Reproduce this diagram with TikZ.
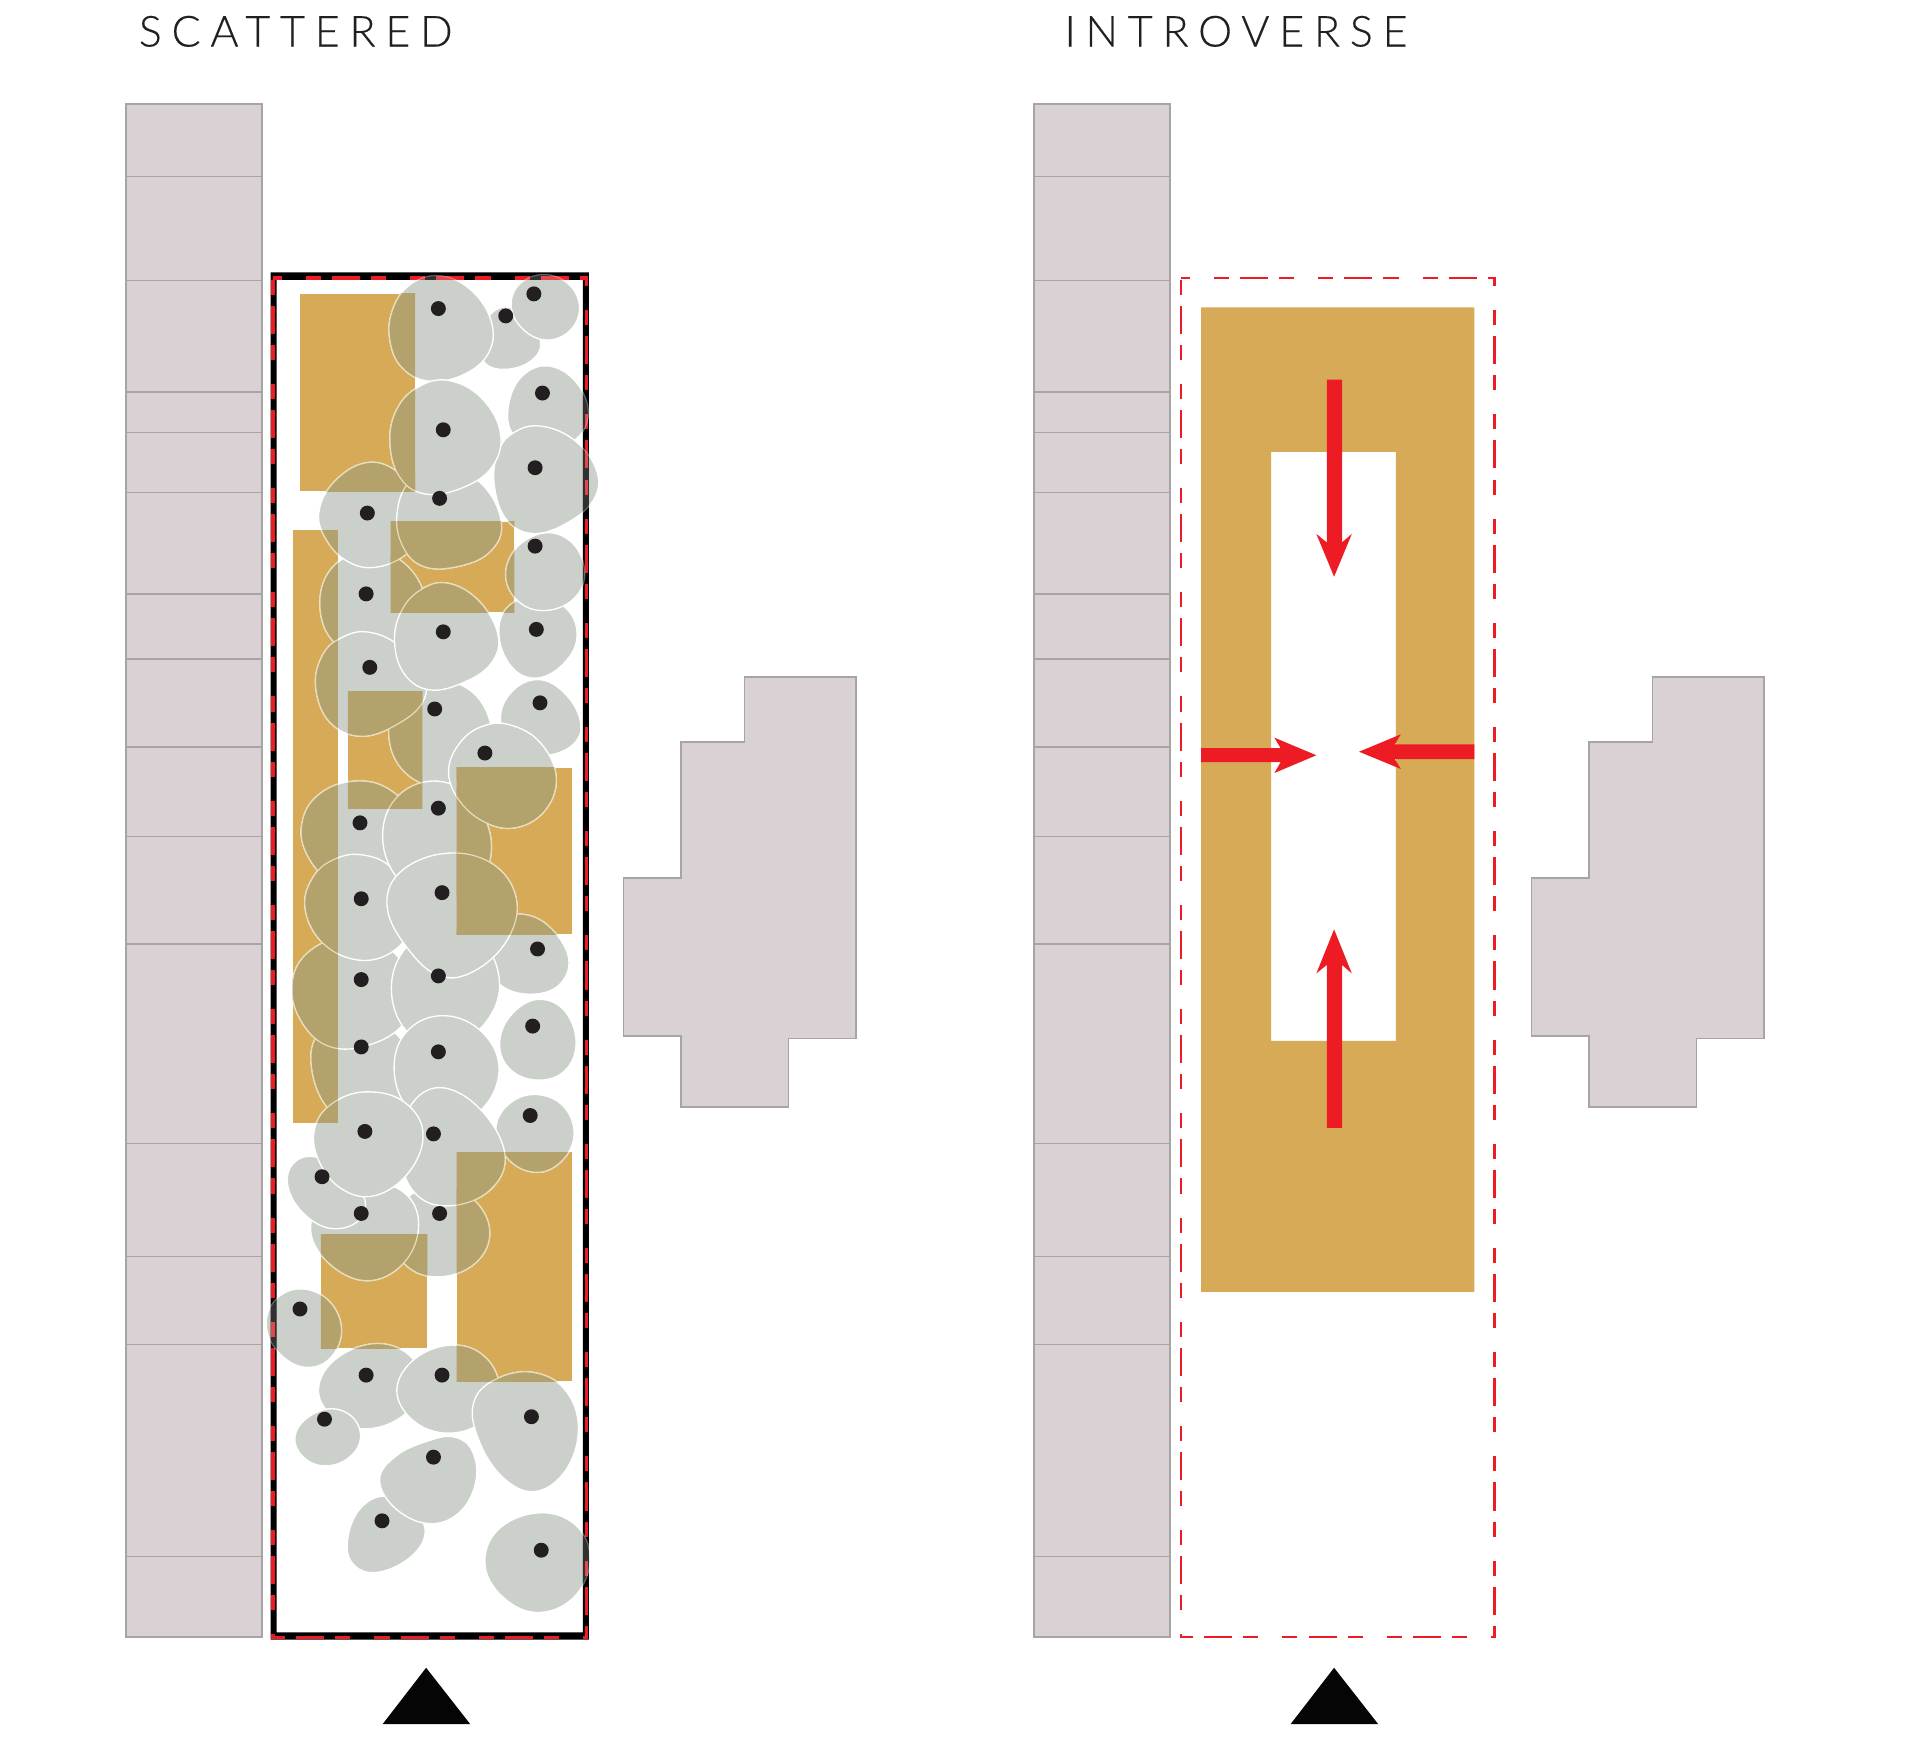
\documentclass[tikz,border=0pt]{standalone}
\usepackage{fontspec}
\newfontfamily\titlefont[LetterSpace=23,FakeBold=0.35]{Lato Light}
\definecolor{bldfill}{HTML}{D9D1D3}
\definecolor{bldline}{HTML}{A8A4A5}
\definecolor{ochre}{HTML}{D7AA58}
\definecolor{blobgray}{HTML}{CBD0CB}
\definecolor{bloboverlap}{HTML}{B4A26C}
\definecolor{cream}{HTML}{E6DCBC}
\definecolor{dotblack}{HTML}{231F20}
\definecolor{dashred}{HTML}{ED1C24}
\tikzset{
  bldstyle/.style={fill=bldfill,draw=bldline,line width=.6pt},
  bldrule/.style={draw=bldline,line width=.6pt},
  ochrefill/.style={fill=ochre,draw=none},
  arrowred/.style={fill=dashred,draw=none},
  plotdash/.style={draw=dashred,line width=#1,dash pattern=on 6.15pt off 4.5pt on 11.45pt off 4.5pt on 6.15pt off 9.8pt,dash phase=29.05pt},
  blobmain/.style={fill=blobgray,draw=white,line width=.55pt},
  blobover/.style={fill=bloboverlap,draw=cream,line width=.5pt},
  blobveil/.style={fill=blobgray,fill opacity=.24,draw=white,draw opacity=.3,line width=.5pt},
  seed/.style={circle,fill=dotblack,draw=none,minimum size=6.1pt,inner sep=0pt},
  marker/.style={fill=black!98,draw=none},
  plantitle/.style={anchor=base west,inner sep=0pt,text=dotblack,font=\titlefont\fontsize{17.5}{20}\selectfont}
}
\makeatletter
\newcount\bn \newcount\bi
\def\parsepts(#1,#2){\advance\bn 1 \expandafter\def\csname bx\the\bn\endcsname{#1}\expandafter\def\csname by\the\bn\endcsname{#2}%
  \pgfmathsetmacro\sumx{\sumx+#1/40}\pgfmathsetmacro\sumy{\sumy+#2/40}\@ifnextchar(\parsepts\parsedone}
\def\parsedone\relax{}
\def\cycidx#1{\ifnum#1<1 \the\numexpr#1+\bn\relax\else\ifnum#1>\bn \the\numexpr#1-\bn\relax\else#1\fi\fi}
\def\cycval#1#2{\csname b#1\expandafter\cycidx\expandafter{\the\numexpr\bi+#2\relax}\endcsname}
\def\filtered#1{%
  \edef\va{\cycval{#1}{0}}\edef\vb{\cycval{#1}{1}}\edef\vc{\cycval{#1}{-1}}\edef\vd{\cycval{#1}{2}}\edef\ve{\cycval{#1}{-2}}%
  \pgfmathsetmacro\vout{.625*\va+.25*(\vb+\vc)-.0625*(\vd+\ve)}}
\newcommand{\defblob}[2]{%
  \bn=0 \def\sumx{0}\def\sumy{0}\parsepts#2\relax
  \pgfmathsetmacro\cenx{\sumx*40/\the\bn}\pgfmathsetmacro\ceny{\sumy*40/\the\bn}%
  \def\accpts{}\bi=0
  \loop\advance\bi 1
    \filtered{x}\pgfmathsetmacro\nx{\cenx+1.03*(\vout-\cenx)}%
    \filtered{y}\pgfmathsetmacro\ny{\ceny+1.03*(\vout-\ceny)}%
    \edef\accpts{\accpts(\nx,\ny)}%
  \ifnum\bi<\bn\repeat
  \expandafter\xdef\csname blobpts#1\endcsname{\accpts}}
\newcommand{\doblob}[2]{\edef\tmpblob{\noexpand\path[#2] plot[smooth cycle,tension=.68] coordinates {\@nameuse{blobpts#1}};}\tmpblob}
\makeatother
\defblob{1}{(412,249)(432,262)(442,282)(432,295)(412,301)(396,297)(392,280)(398,262)}
\defblob{2}{(360,226)(385,238)(401,265)(398,288)(378,305)(350,311)(330,300)(320,280)(321,255)(335,233)}
\defblob{3}{(445,224)(465,233)(473,252)(465,270)(445,278)(428,268)(417,250)(425,232)}
\defblob{4}{(447,299)(470,312)(480,338)(470,360)(440,365)(420,355)(416,335)(425,308)}
\defblob{5}{(365,311)(392,325)(409,355)(400,382)(375,398)(345,402)(328,390)(319,360)(325,335)(342,318)}
\defblob{6}{(440,349)(468,358)(486,385)(485,405)(465,425)(435,435)(415,425)(404,395)(408,370)(420,355)}
\defblob{7}{(360,380)(395,395)(408,430)(400,450)(370,462)(345,462)(330,445)(325,420)(335,395)}
\defblob{8}{(300,378)(322,385)(340,410)(345,435)(330,452)(305,463)(285,458)(268,440)(261,420)(272,395)}
\defblob{9}{(300,450)(330,460)(345,490)(340,520)(300,535)(275,525)(262,495)(270,465)}
\defblob{10}{(300,518)(325,525)(345,555)(345,570)(325,590)(295,601)(270,590)(258,560)(265,535)(280,522)}
\defblob{11}{(365,477)(390,490)(407,520)(400,540)(380,555)(350,564)(332,550)(323,525)(328,500)(345,483)}
\defblob{12}{(440,487)(462,497)(471,520)(462,538)(440,554)(420,547)(409,520)(412,497)}
\defblob{13}{(445,435)(465,442)(477,465)(472,485)(450,497)(428,495)(413,472)(420,450)}
\defblob{14}{(355,555)(385,565)(402,600)(390,625)(360,640)(335,635)(320,605)(322,580)}
\defblob{15}{(440,555)(460,565)(473,590)(470,605)(445,617)(420,610)(408,585)(420,565)}
\defblob{16}{(415,593)(440,605)(454,635)(445,660)(420,676)(395,670)(375,650)(366,630)(378,605)(395,595)}
\defblob{17}{(360,638)(385,655)(401,690)(390,725)(350,735)(325,715)(313,680)(325,650)}
\defblob{18}{(290,639)(315,645)(335,665)(335,700)(310,725)(270,720)(252,695)(248,670)(262,648)}
\defblob{19}{(295,699)(318,708)(333,730)(335,760)(315,778)(290,783)(262,768)(249,740)(258,715)(275,703)}
\defblob{20}{(365,697)(400,705)(421,735)(415,765)(385,793)(360,796)(335,775)(317,740)(325,715)}
\defblob{21}{(422,749)(445,752)(466,785)(455,805)(425,811)(405,800)(395,775)(405,755)}
\defblob{22}{(358,755)(395,770)(407,805)(395,835)(365,855)(335,845)(320,810)(330,780)}
\defblob{23}{(285,765)(320,775)(335,810)(330,835)(300,852)(270,855)(248,835)(240,805)(250,780)}
\defblob{24}{(360,829)(390,842)(408,870)(395,905)(360,920)(335,905)(323,875)(330,845)}
\defblob{25}{(290,830)(330,850)(335,890)(300,925)(270,905)(255,870)(262,845)}
\defblob{26}{(440,817)(462,825)(470,855)(460,875)(435,882)(415,870)(408,850)(420,827)}
\defblob{27}{(440,895)(462,905)(469,930)(455,950)(435,957)(415,945)(403,920)(420,900)}
\defblob{28}{(360,888)(390,905)(414,945)(400,970)(365,984)(340,975)(327,940)(335,905)}
\defblob{29}{(300,893)(330,900)(345,925)(335,955)(305,977)(280,970)(260,945)(258,920)(275,900)}
\defblob{30}{(258,943)(280,960)(300,980)(290,998)(268,1003)(248,990)(235,968)(240,952)}
\defblob{31}{(300,965)(330,975)(341,1000)(330,1030)(300,1048)(270,1030)(254,1005)(265,980)}
\defblob{32}{(360,968)(385,980)(400,1005)(390,1030)(360,1042)(335,1035)(320,1010)(330,980)}
\defblob{33}{(245,1053)(268,1062)(279,1085)(270,1108)(250,1117)(230,1105)(217,1085)(225,1062)}
\defblob{34}{(310,1096)(335,1110)(345,1135)(325,1158)(295,1167)(272,1155)(260,1133)(275,1110)}
\defblob{35}{(370,1099)(395,1108)(408,1135)(395,1160)(365,1170)(340,1160)(322,1135)(340,1110)}
\defblob{36}{(435,1121)(460,1135)(472,1165)(462,1200)(435,1218)(410,1205)(390,1170)(388,1145)(405,1128)}
\defblob{37}{(272,1150)(290,1160)(294,1178)(280,1193)(260,1197)(245,1185)(241,1170)(255,1157)}
\defblob{38}{(370,1174)(385,1185)(388,1210)(375,1235)(350,1244)(325,1232)(308,1207)(325,1190)(350,1178)}
\defblob{39}{(315,1220)(335,1235)(348,1250)(335,1272)(305,1285)(288,1275)(285,1255)(295,1232)}
\defblob{40}{(440,1236)(468,1245)(482,1272)(470,1303)(440,1317)(415,1305)(396,1280)(405,1250)}
\newcommand{\bloborder}{1,2,3,4,6,9,8,7,5,12,13,14,15,10,11,25,23,18,19,17,16,21,22,20,24,26,27,32,28,31,30,29,33,34,35,36,37,39,38,40}
\begin{document}
\begin{tikzpicture}[x=.5pt,y=-.5pt]
\useasboundingbox (0,0) rectangle (1568,1438.1);
\fill[white] (0,0) rectangle (1568,1438.1);
% titles
\node[plantitle] (titleA) at (113,38) {SCATTERED};
\node[plantitle] (titleB) at (869,38) {INTROVERSE};
% neighbouring buildings, both panels
\foreach \dx in {0,741.5}{
\begin{scope}[shift={(\dx,0)}]
  \path[bldstyle] (103,85) rectangle (214,1337);
  \foreach \yy in {144,229,320,353,402,485,538,610,683,771,934,1026,1098,1271}
    \path[bldrule] (103,\yy) -- (214,\yy);
  \path[bldstyle] (608,553) -- (699,553) -- (699,848) -- (644,848) -- (644,904) -- (556,904) -- (556,846) -- (509,846) -- (509,717) -- (556,717) -- (556,606) -- (608,606) -- cycle;
  \fill[marker] (348,1362) -- (384,1408) -- (312.5,1408) -- cycle;
\end{scope}}
% left panel: ochre plots
\foreach \ra/\rb/\rc/\rd in {245/240/339/401,239/433/276/917,319/426/420/500,284/565/345/660,373/627/467/763,373/941/467/1128,262/1008/349/1101}
  \path[ochrefill] (\ra,\rb) rectangle (\rc,\rd);
% trees
\foreach \n in \bloborder {\doblob{\n}{blobmain}}
% tree overlaps on the plots
\foreach \ra/\rb/\rc/\rd in {245/240/339/401,239/433/276/917,319/426/420/500,284/565/345/660,373/627/467/763,373/941/467/1128,262/1008/349/1101}{
  \begin{scope}
    \clip (\ra,\rb) rectangle (\rc,\rd);
    \foreach \n in \bloborder {\doblob{\n}{blobover}}
  \end{scope}}
% frame
\fill[black,even odd rule] (221,222.5) rectangle (481,1339) (226,228.5) rectangle (476,1333);
\path[plotdash=1.3pt] (223,227) -- (479,227) -- (479,1337) -- (223,1337) -- cycle;
\begin{scope}
  \clip (221,222.5) rectangle (226,1339) (476,222.5) rectangle (481,1339) (221,222.5) rectangle (481,228.5) (221,1333) rectangle (481,1339);
  \foreach \n in \bloborder {\doblob{\n}{blobveil}}
\end{scope}
% tree centres
\foreach \px/\py [count=\i] in {413/258,358/252,436/240,443/321,362/351,437/382,359/407,300/419,299/485,302/545,362/516,438/514,437/446,355/579,441/574,396/615,358/660,294/672,295/734,361/729,439/775,358/797,295/800,358/859,295/855,435/838,433/911,354/926,298/924,263/961,295/991,359/991,245/1069,299/1123,361/1123,434/1157,265/1159,354/1190,312/1242,442/1266}
  \node[seed] (seed\i) at (\px,\py) {};
% right panel
\fill[ochre,even odd rule] (981,251) rectangle (1204,1055) (1038,369) rectangle (1140,850);
\path[plotdash=1pt] (964.5,227) -- (1220.5,227) -- (1220.5,1337) -- (964.5,1337) -- cycle;
% arrows
\fill[arrowred] (1083.5,310) -- (1096,310) -- (1096,443) -- (1104,436) -- (1089.5,471) -- (1075,436) -- (1083.5,443) -- cycle;
\fill[arrowred] (1083.5,921) -- (1096,921) -- (1096,788) -- (1104,795) -- (1089.5,759) -- (1075,795) -- (1083.5,788) -- cycle;
\fill[arrowred] (981,611) -- (1045.8,611) -- (1040.7,602.4) -- (1075,616.8) -- (1040.7,631.3) -- (1045.8,622.5) -- (981,622.5) -- cycle;
\fill[arrowred] (1204,608) -- (1139,608) -- (1144,599.7) -- (1109.9,613.9) -- (1144,628) -- (1139,620) -- (1204,620) -- cycle;
\end{tikzpicture}
\end{document}
